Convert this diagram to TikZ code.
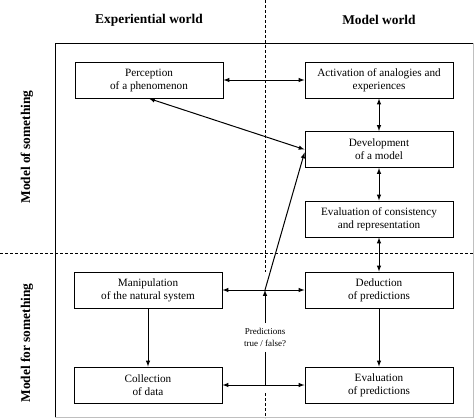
\documentclass[tikz,border=0pt]{standalone}
\usepackage{fontspec}
\setmainfont{Liberation Serif}
\begin{document}
\begin{tikzpicture}[x=1pt, y=-1pt, >=latex, line width=1pt,
	stage/.style={draw, minimum width=148pt, minimum height=36pt, inner sep=2pt, align=center, font=\fontsize{11.2}{13}\selectfont},
	heading/.style={font=\fontsize{13.4}{15}\selectfont\bfseries},
	divider/.style={dash pattern=on 3pt off 2pt, line width=0.8pt}]
%	\draw[help lines] (0,0) grid (474,418);
	\useasboundingbox (0,0) rectangle (474,418);
	\draw (55,417) -- (55,43) -- (473,43);
	\draw[gray!50] (473,43) -- (473,417) -- (55,417);
	\draw[divider] (265,0) -- (265,272);
	\draw[divider] (265,393) -- (265,418);
	\draw[divider] (0,253) -- (474,253);
	\node[heading] (experiential label) at (149,20) {Experiential world};
	\node[heading] (model label) at (379,20) {Model world};
	\node[heading, rotate=90] (model of label) at (27,147) {Model of something};
	\node[heading, rotate=90] (model for label) at (27,343) {Model for something};
	\node[stage] (perception) at (149,80) {Perception\\of a phenomenon};
	\node[stage] (activation) at (379,80) {Activation of analogies and\\experiences};
	\node[stage] (development) at (379,149.5) {Development\\of a model};
	\node[stage] (consistency) at (379,219) {Evaluation of consistency\\and representation};
	\node[stage] (manipulation) at (148,290) {Manipulation\\of the natural system};
	\node[stage] (deduction) at (379,290) {Deduction\\of predictions};
	\node[stage] (collection) at (148,385) {Collection\\of data};
	\node[stage] (evaluation) at (379,385) {Evaluation\\of predictions};
	\node[font=\fontsize{9}{11.5}\selectfont, align=center, inner sep=5pt] (question) at (265,337.5) {Predictions\\true / false?};
	\coordinate (junction) at (265,290);
	\coordinate (data junction) at (265,385);
	\draw[<->] (perception) -- (activation);
	\draw[<->] (activation) -- (development);
	\draw[<->] (development) -- (consistency);
	\draw[<->] (consistency) -- (deduction);
	\draw[<->] (perception.south) -- (development.west);
	\draw[<->] (manipulation) -- (deduction);
	\draw[<->] (collection) -- (evaluation);
	\draw[->] (junction) -- ([yshift=-3pt]development.west);
	\draw[->] (question) -- (junction);
	\draw (question) -- (data junction);
	\draw[->] (manipulation) -- (collection);
	\draw[->] (deduction) -- (evaluation);
\end{tikzpicture}
\end{document}
